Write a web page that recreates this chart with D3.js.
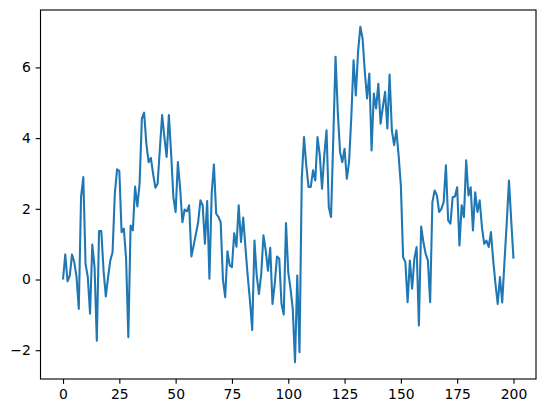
<!DOCTYPE html>
<html>
<head>
<meta charset="utf-8">
<script src="https://cdn.jsdelivr.net/npm/d3@7"></script>
<style>
    body { margin: 0; background: #ffffff; }
    svg { display: block; }
</style>
</head>
<body>
<script>
// step index on the x axis
const steps = d3.range(0, 201);

// series values, one step at a time
const walk_values = [
    0.00, 0.71, -0.05, 0.11, 0.71, 0.49, 0.07, -0.83, 2.33, 2.90,
    0.44, 0.07, -0.97, 0.99, 0.35, -1.73, 1.37, 1.37, 0.25, -0.48,
    0.07, 0.54, 0.77, 2.43, 3.12, 3.07, 1.34, 1.44, 0.60, -1.63,
    1.53, 1.39, 2.63, 2.07, 2.71, 4.55, 4.72, 3.84, 3.32, 3.44,
    2.99, 2.60, 2.71, 3.70, 4.65, 4.03, 3.47, 4.65, 3.56, 2.33,
    1.91, 3.32, 2.57, 1.62, 1.98, 1.93, 2.10, 0.65, 0.96, 1.29,
    1.62, 2.24, 2.10, 1.01, 2.22, 0.02, 2.43, 3.25, 1.86, 1.77,
    1.62, 0.00, -0.50, 0.80, 0.40, 0.35, 1.31, 0.93, 2.10, 1.06,
    1.75, 0.90, 0.10, -0.60, -1.43, 1.10, 0.11, -0.41, 0.16, 1.25,
    0.82, 0.25, 0.90, -0.69, -0.12, 0.65, 0.59, -0.69, -0.99, 1.60,
    0.21, -0.26, -0.83, -2.34, 0.11, -2.06, 2.85, 4.03, 3.23, 2.62,
    2.62, 3.09, 2.80, 4.03, 3.51, 2.57, 3.51, 4.22, 2.05, 1.77,
    4.00, 6.30, 4.74, 3.61, 3.32, 3.70, 2.85, 3.32, 4.60, 6.20,
    5.21, 6.44, 7.15, 6.82, 5.87, 5.12, 5.83, 3.65, 5.26, 4.84,
    5.54, 4.41, 4.88, 5.31, 4.27, 5.80, 4.22, 3.80, 4.22, 3.51,
    2.66, 0.63, 0.49, -0.64, 0.54, -0.26, 0.59, 0.92, -1.30, 1.50,
    1.06, 0.73, 0.54, -0.64, 2.19, 2.52, 2.38, 1.91, 2.00, 2.19,
    3.23, 1.67, 1.58, 2.33, 2.35, 2.61, 0.96, 2.10, 1.77, 3.37,
    2.38, 2.61, 1.39, 2.47, 1.91, 2.24, 1.48, 1.01, 1.10, 0.92,
    1.34, 0.54, -0.12, -0.69, 0.07, -0.65, 0.50, 1.60, 2.80, 1.67,
    0.59
];

// tick labels
const x_ticks = [0, 25, 50, 75, 100, 125, 150, 175, 200];
const y_ticks = [-2, 0, 2, 4, 6];

class WalkChart {
    constructor(name) {
        this.name = name;
        this.total_width = 546;
        this.total_height = 413;
        this.margin = { top: 10, right: 10, bottom: 34, left: 40.5 };
        this.graph_width = this.total_width - this.margin.left - this.margin.right;
        this.graph_height = this.total_height - this.margin.top - this.margin.bottom;
        this.svg_container = null;
    }

    construct_svg(self = this) {
        self.svg_container = d3.select("body").append("svg")
            .attr("width", self.total_width)
            .attr("height", self.total_height)
            .attr("id", self.name)
            .append("g")
            .attr("class", "inner_graph")
            .attr("transform",
                "translate(" + self.margin.left + "," + self.margin.top + ")");
    }

    construct_graph(self = this) {
        // matplotlib pads the data range by 5% on each side
        const x_ext = d3.extent(steps);
        const y_ext = d3.extent(walk_values);
        const x_pad = (x_ext[1] - x_ext[0]) * 0.05;
        const y_pad = (y_ext[1] - y_ext[0]) * 0.05;

        const x = d3.scaleLinear()
            .domain([x_ext[0] - x_pad, x_ext[1] + x_pad])
            .range([0, self.graph_width]);
        const y = d3.scaleLinear()
            .domain([y_ext[0] - y_pad, y_ext[1] + y_pad])
            .range([self.graph_height, 0]);

        const tick_len = 4.86;
        const font = "'DejaVu Sans', sans-serif";

        // the series line
        const line = d3.line()
            .x(function (d, i) { return x(steps[i]); })
            .y(function (d) { return y(d); });

        self.svg_container.append("path")
            .datum(walk_values)
            .attr("class", self.name + "_line")
            .attr("fill", "none")
            .attr("stroke", "#1f77b4")
            .attr("stroke-width", 2.08)
            .attr("stroke-linejoin", "round")
            .attr("d", line);

        // x axis
        const x_axis = self.svg_container.append("g")
            .attr("class", "x_axis")
            .attr("transform", "translate(0," + self.graph_height + ")")
            .call(d3.axisBottom(x)
                .tickValues(x_ticks)
                .tickSize(tick_len)
                .tickSizeOuter(0)
                .tickPadding(4.86)
                .tickFormat(d3.format("d")));

        // y axis
        const y_axis = self.svg_container.append("g")
            .attr("class", "y_axis")
            .call(d3.axisLeft(y)
                .tickValues(y_ticks)
                .tickSize(tick_len)
                .tickSizeOuter(0)
                .tickPadding(4.86)
                .tickFormat(d3.format("d")));

        [x_axis, y_axis].forEach(function (ax) {
            ax.select(".domain").remove();
            ax.selectAll("line").attr("stroke", "#000").attr("stroke-width", 1.11);
            ax.selectAll("text")
                .attr("fill", "#000")
                .style("font-family", font)
                .style("font-size", "13.9px");
        });

        // spines all round
        self.svg_container.append("rect")
            .attr("class", "frame")
            .attr("x", 0)
            .attr("y", 0)
            .attr("width", self.graph_width)
            .attr("height", self.graph_height)
            .attr("fill", "none")
            .attr("stroke", "#000")
            .attr("stroke-width", 1.11);
    }
}

const chart = new WalkChart("walkChart");
chart.construct_svg();
chart.construct_graph();
</script>
</body>
</html>
